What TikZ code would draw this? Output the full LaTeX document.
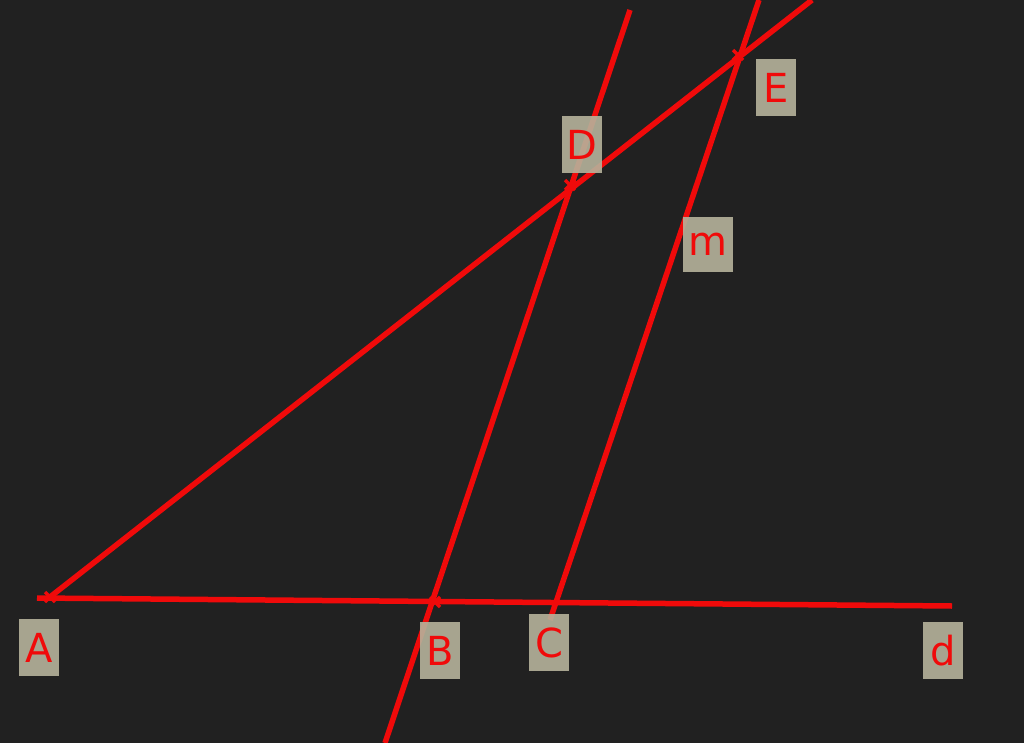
\documentclass[tikz,border=0pt]{standalone}
\usepackage{fontspec}
\setmainfont{DejaVu Sans}
\usetikzlibrary{calc}
\definecolor{bg}{HTML}{212121}
\definecolor{ln}{HTML}{F00A0A}
\definecolor{lbl}{HTML}{B6B39C}
\begin{document}
\begin{tikzpicture}[x=1pt,y=-1pt,
  geoline/.style={draw=ln,line width=5.5pt},
  ptmark/.style={draw=ln,line width=3.5pt},
  lab/.style={fill=lbl,fill opacity=0.9,text opacity=1,text=ln,font=\fontsize{40}{40}\selectfont,minimum width=40pt,minimum height=57pt,inner sep=0pt,anchor=north west}]
\fill[bg] (0,0) rectangle (1024,743);
\useasboundingbox (0,0) rectangle (1024,743);
% points
\coordinate (A) at (50,597);
\coordinate (B) at (435,602);
\coordinate (C) at (555,604);
\coordinate (D) at (570,185);
\coordinate (E) at (738,55);
% line ends
\coordinate (d1) at (37,598);
\coordinate (d2) at (952,606);
\coordinate (ae2) at (812,0);
\coordinate (bd1) at (385,743);
\coordinate (bd2) at (630,10);
\coordinate (m1) at (550,620);
\coordinate (m2) at (759,0);
% lines
\draw[geoline] (d1) -- (d2);
\draw[geoline] (A) -- (ae2);
\draw[geoline] (bd1) -- (bd2);
\draw[geoline] (m1) -- (m2);
% point marks
\foreach \p in {A,B,D,E}{
  \draw[ptmark] ($(\p)+(-5,-5)$) -- ($(\p)+(5,5)$);
  \draw[ptmark] ($(\p)+(-5,5)$) -- ($(\p)+(5,-5)$);
}
% labels
\node[lab] (LA) at (19,619) {A};
\node[lab] (LB) at (420,622) {B};
\node[lab] (LC) at (529,614) {C};
\node[lab] (LD) at (562,116) {D};
\node[lab] (LE) at (756,59) {E};
\node[lab,minimum width=50pt,minimum height=55pt] (Lm) at (683,217) {m};
\node[lab] (Ld) at (923,622) {d};
\end{tikzpicture}
\end{document}
